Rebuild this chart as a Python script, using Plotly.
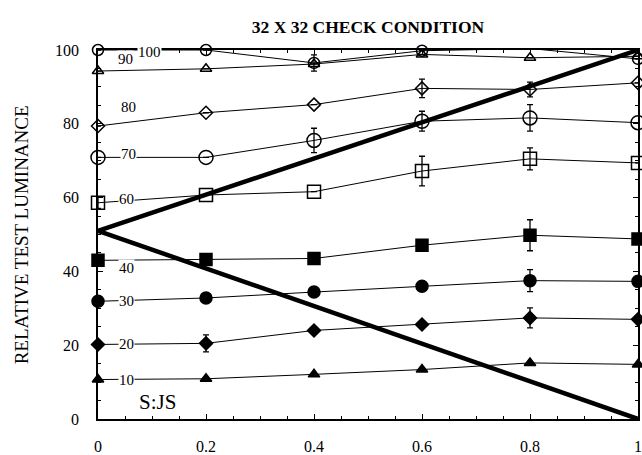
import plotly.graph_objects as go

x = [0, 0.2, 0.4, 0.6, 0.8, 1.0]

s100 = [100, 100, 96.5, 99.8, 100.4, 97.6]
s90 = [94.3, 94.9, 96.2, 98.8, 97.9, 98.3]
s80 = [79.4, 83.0, 85.2, 89.6, 89.3, 91.1]
s70 = [70.9, 70.9, 75.5, 80.7, 81.6, 80.3]
s60 = [58.6, 60.7, 61.6, 67.2, 70.5, 69.4]
s40 = [43.0, 43.2, 43.5, 47.1, 49.8, 48.8]
s30 = [31.9, 32.8, 34.4, 36.0, 37.5, 37.3]
s20 = [20.2, 20.5, 24.0, 25.6, 27.4, 27.0]
s10 = [10.7, 10.9, 12.1, 13.4, 15.2, 14.8]

e100 = [0, 0, 2.2, 0, 0, 0]
e90 = [0, 0, 0, 0, 0, 0]
e80 = [0, 0, 0, 2.5, 2.0, 0]
e70 = [0, 0, 3.3, 2.7, 3.6, 0]
e60 = [1.5, 0, 0, 4.0, 3.0, 0]
e40 = [0, 0, 0, 0, 4.2, 0]
e30 = [0, 0, 0, 0, 3.0, 0]
e20 = [0, 2.3, 0, 0, 2.7, 0]
e10 = [0, 0, 0, 0, 0, 0]

diag_x = [0, 1]
diag_up = [51, 100]
diag_down = [51, 0]

labels = ["100", "90", "80", "70", "60", "40", "30", "20", "10"]
label_x = [0.096, 0.05, 0.056, 0.056, 0.053, 0.053, 0.053, 0.053, 0.053]
label_y = [99.4, 97.6, 84.5, 71.9, 59.5, 41.0, 31.9, 20.2, 10.7]

series = [
    (s100, e100, "circle-open", 11),
    (s90, e90, "triangle-up-open", 10),
    (s80, e80, "diamond-open", 10),
    (s70, e70, "circle-open", 14),
    (s60, e60, "square-open", 13),
    (s40, e40, "square", 12),
    (s30, e30, "circle", 12),
    (s20, e20, "diamond", 10),
    (s10, e10, "triangle-up", 10),
]

fig = go.Figure()

for ys, es, sym, sz in series:
    fig.add_trace(go.Scatter(
        x=x, y=ys, mode="lines",
        line=dict(color="black", width=1),
        showlegend=False, cliponaxis=False, hoverinfo="skip",
    ))

# labels (with white background to break the lines)
for t, lx, ly in zip(labels, label_x, label_y):
    fig.add_annotation(
        x=lx, y=ly, xref="x", yref="y", text=t, showarrow=False,
        font=dict(family="Liberation Serif", size=15, color="black"),
        bgcolor="white", borderpad=0,
    )

for ys, es, sym, sz in series:
    fig.add_trace(go.Scatter(
        x=x, y=ys, mode="markers",
        marker=dict(symbol=sym, size=sz, color="black",
                    line=dict(color="black", width=1.5)),
        error_y=dict(type="data", array=es, visible=True, color="black",
                     thickness=1.3, width=3),
        showlegend=False, cliponaxis=False,
    ))

fig.add_trace(go.Scatter(x=diag_x, y=diag_up, mode="lines",
                         line=dict(color="black", width=4.5),
                         showlegend=False, cliponaxis=False))
fig.add_trace(go.Scatter(x=diag_x, y=diag_down, mode="lines",
                         line=dict(color="black", width=4.5),
                         showlegend=False, cliponaxis=False))

axis_common = dict(
    showline=True, linecolor="black", linewidth=1.5, mirror="ticks",
    ticks="inside", ticklen=5, tickcolor="black", tickwidth=1.2,
    showgrid=False, zeroline=False, automargin=False,
    ticklabeloverflow="allow",
    tickfont=dict(family="Liberation Serif", size=16, color="black"),
)

fig.update_xaxes(
    range=[0, 1], tickvals=[0, 0.2, 0.4, 0.6, 0.8, 1.0],
    ticktext=["0", "0.2", "0.4", "0.6", "0.8", "1"],
    minor=dict(dtick=0.05, ticks="inside", ticklen=3, tickcolor="black"),
    ticklabelstandoff=12,
    **axis_common,
)
fig.update_yaxes(
    range=[0, 100], tickvals=[0, 20, 40, 60, 80, 100],
    minor=dict(dtick=5, ticks="inside", ticklen=3, tickcolor="black"),
    ticklabelstandoff=14,
    **axis_common,
)

fig.add_annotation(
    x=0.111, y=4.5, xref="x", yref="y", text="S:JS", showarrow=False,
    xanchor="center", yanchor="middle",
    font=dict(family="Liberation Serif", size=21, color="black"),
)
fig.add_annotation(
    x=-0.141, y=0.5, xref="paper", yref="paper", text="RELATIVE TEST LUMINANCE",
    textangle=-90, showarrow=False, xanchor="center", yanchor="middle",
    font=dict(family="Liberation Serif", size=19, color="black"),
)

fig.update_layout(
    width=642, height=455,
    margin=dict(l=98, r=4, t=50, b=36, autoexpand=False),
    paper_bgcolor="white", plot_bgcolor="white",
    title=dict(text="<b>32 X 32 CHECK CONDITION</b>", xref="paper", x=0.5,
               xanchor="center", y=1 - 27 / 455, yanchor="middle",
               automargin=False,
               font=dict(family="Liberation Serif", size=17.5, color="black")),
)

# remove the default page margin so the figure fills the window exactly
fig.write_html("out.html", config={"displayModeBar": False},
               post_script="document.body.style.margin='0px';")
